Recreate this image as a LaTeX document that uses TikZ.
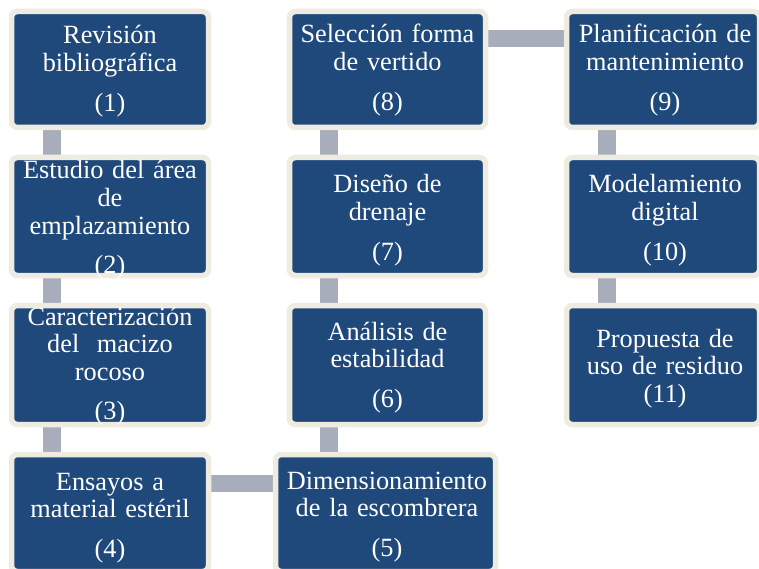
\documentclass[tikz,border=0pt]{standalone}
\usepackage{fontspec}
\setmainfont{Liberation Serif}
\usetikzlibrary{backgrounds}
\definecolor{boxblue}{RGB}{32,73,123}
\definecolor{boxrim}{RGB}{238,236,225}
\definecolor{linkgrey}{RGB}{167,173,186}
\begin{document}
\begin{tikzpicture}[x=1pt,y=-1pt,
  stepbox/.style={draw=boxrim, fill=boxblue, line width=5.5pt, rounded corners=6pt, inner sep=0pt, outer sep=0pt},
  boxtext/.style={text=white, align=center, text width=215pt, anchor=base, inner sep=0pt, font=\fontsize{26.3}{27.5}\selectfont},
  vlink/.style={draw=linkgrey, line width=18pt},
  hlink/.style={draw=linkgrey, line width=17pt}]
\useasboundingbox (0,0) rectangle (759,569);
% boxes
\node[stepbox, minimum width=197pt, minimum height=116pt] (b1) at (110,69.5) {};
\node[stepbox, minimum width=197pt, minimum height=118pt] (b2) at (110,216.5) {};
\node[stepbox, minimum width=197pt, minimum height=119pt] (b3) at (110,365) {};
\node[stepbox, minimum width=197pt, minimum height=117pt] (b4) at (110,513) {};
\node[stepbox, minimum width=220pt, minimum height=117pt] (b5) at (385.5,513) {};
\node[stepbox, minimum width=196pt, minimum height=119pt] (b6) at (387.5,365) {};
\node[stepbox, minimum width=196pt, minimum height=118pt] (b7) at (387.5,216.5) {};
\node[stepbox, minimum width=196pt, minimum height=116pt] (b8) at (387.5,69.5) {};
\node[stepbox, minimum width=193pt, minimum height=116pt] (b9) at (663,69.5) {};
\node[stepbox, minimum width=193pt, minimum height=118pt] (b10) at (663,216.5) {};
\node[stepbox, minimum width=193pt, minimum height=119pt] (b11) at (663,365) {};
% texts
\node[boxtext] (t1) at (110,44) {Revisión\\bibliográfica\\[12.5pt](1)};
\node[boxtext] (t2) at (110,179) {Estudio del área\\de\\emplazamiento\\[12pt](2)};
\node[boxtext] (t3) at (110,325) {Caracterización\\del\ \ macizo\\rocoso\\[12pt](3)};
\node[boxtext] (t4) at (110,490) {Ensayos a\\material estéril\\[12.5pt](4)};
\node[boxtext] (t5) at (387,489) {Dimensionamiento\\de la escombrera\\[12.5pt](5)};
\node[boxtext] (t6) at (387.5,340) {Análisis de\\estabilidad\\[12pt](6)};
\node[boxtext] (t7) at (387.5,193) {Diseño de\\drenaje\\[12.5pt](7)};
\node[boxtext] (t8) at (387.5,43) {Selección forma\\de vertido\\[12.5pt](8)};
\node[boxtext] (t9) at (665,43) {Planificación de\\mantenimiento\\[12.5pt](9)};
\node[boxtext] (t10) at (665,193) {Modelamiento\\digital\\[12.5pt](10)};
\node[boxtext] (t11) at (665,347) {Propuesta de\\uso de residuo\\(11)};
% connectors
\begin{pgfonlayer}{background}
\draw[vlink] ([xshift=-58pt]b1.south) -- ([xshift=-58pt]b1.south |- b2.north);
\draw[vlink] ([xshift=-58pt]b2.south) -- ([xshift=-58pt]b2.south |- b3.north);
\draw[vlink] ([xshift=-58pt]b3.south) -- ([xshift=-58pt]b3.south |- b4.north);
\draw[hlink] ([yshift=-29pt]b4.north east) -- ([yshift=-29pt]b4.north east -| b5.west);
\draw[vlink] ([xshift=-58.5pt]b6.south) -- ([xshift=-58.5pt]b6.south |- b5.north);
\draw[vlink] ([xshift=-58.5pt]b7.south) -- ([xshift=-58.5pt]b7.south |- b6.north);
\draw[vlink] ([xshift=-58.5pt]b8.south) -- ([xshift=-58.5pt]b8.south |- b7.north);
\draw[hlink] ([yshift=-27.5pt]b8.north east) -- ([yshift=-27.5pt]b8.north east -| b9.west);
\draw[vlink] ([xshift=-56pt]b9.south) -- ([xshift=-56pt]b9.south |- b10.north);
\draw[vlink] ([xshift=-56pt]b10.south) -- ([xshift=-56pt]b10.south |- b11.north);
\end{pgfonlayer}
\end{tikzpicture}
\end{document}
